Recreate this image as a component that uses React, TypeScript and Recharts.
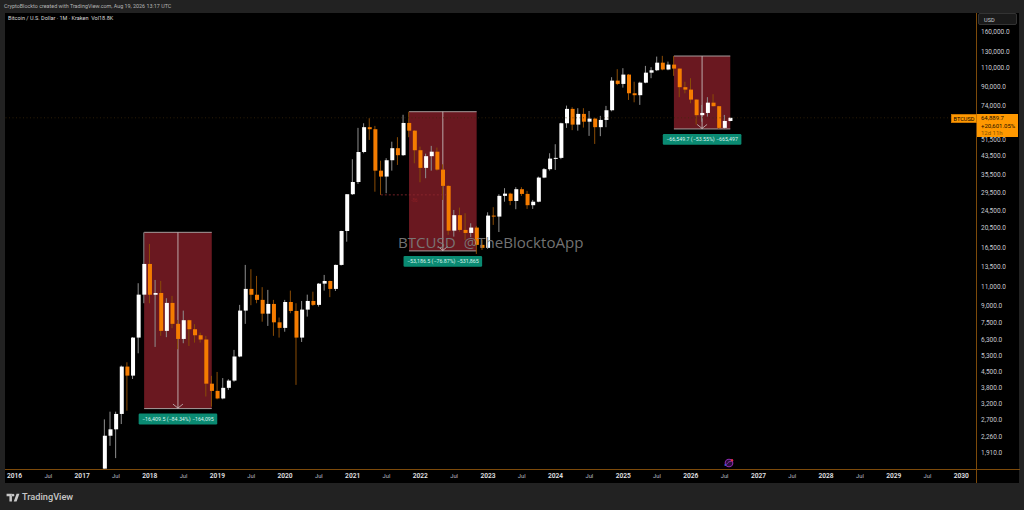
import React from "react";
import { ComposedChart, Bar, XAxis, YAxis, ReferenceArea, ReferenceLine } from "recharts";

// Monthly candles, first entry is May 2017 (month 16 counted from Jan 2016)
const firstMonth = 16;
const opens = [
  1620, 2290, 2450, 2880, 4740, 4310, 6430, 10100,
  13950, 10090, 10280, 6900, 9260, 7430, 6340, 7720, 7020, 6590, 6300, 3960,
  3670, 3390, 3790, 4090, 5270, 8540, 10730, 10090, 9560, 8270, 9160, 7550,
  7120, 9350, 8510, 6430, 8630, 9450, 9070, 11340, 11660, 10730, 13810, 19730,
  29050, 33030, 45280, 58800, 57550, 37220, 34970, 41530, 47140, 43790, 61470, 56680,
  46140, 38320, 43340, 45430, 37630, 31710, 19800, 23300, 19950, 19330, 20450, 17050,
  16520, 23200, 22960, 28550, 29230, 27060, 30620, 29140, 25880, 26850, 34600, 37800,
  42250, 42570, 61280, 71270, 60410, 67600, 62290, 64350, 58800, 63450, 70260, 95930,
  92670, 102220, 84000, 82310, 93900, 104320, 107000, 115880, 107860, 113550, 108880, 89550,
  87300, 78590, 66700, 68290, 76090, 73330, 58360, 62760,
];
const closes = [
  2290, 2450, 2880, 4740, 4310, 6430, 10100, 13950,
  10090, 10280, 6900, 9260, 7430, 6340, 7720, 7020, 6590, 6300, 3960, 3670,
  3390, 3790, 4090, 5270, 8540, 10730, 10090, 9560, 8270, 9160, 7550, 7120,
  9350, 8510, 6430, 8630, 9450, 9070, 11340, 11660, 10730, 13810, 19730, 29050,
  33030, 45280, 58800, 57550, 37220, 34970, 41530, 47140, 43790, 61470, 56680, 46140,
  38320, 43340, 45430, 37630, 31710, 19800, 23300, 19950, 19330, 20450, 17050, 16520,
  23200, 22960, 28550, 29230, 27060, 30620, 29140, 25880, 26850, 34600, 37800, 42250,
  42570, 61280, 71270, 60410, 67600, 62290, 64350, 58800, 63450, 70260, 95930, 92670,
  102220, 84000, 82310, 93900, 104320, 107000, 115880, 107860, 113550, 108880, 89550, 87300,
  78590, 66700, 68290, 76090, 73330, 58360, 62760, 64889.7,
];
const highs = [
  2720, 2950, 2950, 4790, 4960, 6460, 11390, 19450,
  17220, 11790, 11670, 9730, 9970, 7740, 8540, 7760, 7400, 6770, 6550, 4300,
  4480, 4200, 4150, 5650, 9070, 13810, 13200, 12300, 10930, 10620, 9560, 7940,
  9560, 10540, 9230, 9450, 10100, 10420, 11400, 12430, 11700, 13850, 19800, 29100,
  41980, 58370, 61280, 64630, 59600, 41340, 42430, 50470, 52930, 67000, 69190, 57000,
  47940, 44500, 48300, 47440, 39800, 31950, 24620, 25240, 23780, 21400, 20820, 17960,
  24020, 25350, 29050, 30960, 29520, 31280, 31280, 30100, 27360, 34970, 38270, 44700,
  49150, 61650, 73790, 72560, 71800, 71800, 69700, 65000, 66220, 73560, 99480, 108200,
  109350, 102800, 94850, 94850, 112030, 110520, 123550, 124500, 117200, 124276, 109000, 94850,
  98430, 79000, 74300, 80610, 83170, 73600, 66900, 65200,
];
const lows = [
  1620, 2060, 1810, 2590, 2980, 4160, 5450, 9230,
  9230, 5830, 6550, 6460, 7100, 5690, 6060, 5890, 6100, 6100, 3460, 3110,
  3360, 3360, 3710, 4040, 5230, 7430, 9040, 9230, 7600, 7270, 6550, 6430,
  6840, 8310, 3910, 6140, 8020, 8975, 8910, 10540, 9840, 10500, 13710, 17630,
  28840, 32370, 44700, 51420, 29830, 28840, 29350, 37220, 39540, 43470, 52920, 40230,
  32930, 34380, 37220, 37220, 27360, 18940, 18600, 19600, 17960, 18490, 15500, 16170,
  16350, 21040, 19520, 26850, 25880, 24810, 28550, 24890, 24890, 26700, 34380, 37220,
  37500, 41980, 58370, 57000, 56680, 58560, 53650, 49300, 53500, 58800, 69450, 91500,
  89170, 78310, 76400, 74330, 93340, 98430, 106100, 107000, 107000, 100850, 80610, 84000,
  75630, 60410, 62290, 65730, 73050, 57726, 57730, 62500,
];

// Y axis price ticks
const priceTicks = [160000, 130000, 110000, 90000, 74000, 51500, 43500, 35500, 29500, 24500, 20500, 16500, 13500, 11000, 9000, 7500, 6300, 5300, 4500, 3800, 3200, 2700, 2260, 1910];
const yDomain = [1614, 195400];

// X axis: every half-year from Jan 2016 to Jan 2030
const yearLabels = ["2016", "2017", "2018", "2019", "2020", "2021", "2022", "2023", "2024", "2025", "2026", "2027", "2028", "2029", "2030"];
const timeTicks = [0, 6, 12, 18, 24, 30, 36, 42, 48, 54, 60, 66, 72, 78, 84, 90, 96, 102, 108, 114, 120, 126, 132, 138, 144, 150, 156, 162, 168];
const xDomain = [-1.686, 170.6];

// Measured drawdowns
const drawStart = [23, 70, 117];
const drawEnd = [35, 82, 127];
const drawHigh = [19456, 69190, 124276];
const drawLow = [3047, 16003, 57726];
const drawLabels = ["−16,409.5 (−84.34%) −164,095", "−53,186.5 (−76.87%) −531,865", "−66,549.7 (−53.55%) −665,497"];

const lastPrice = 64889.7;
const oldHighLevel = 28850;

const rows = opens.map((o, i) => ({
  t: firstMonth + i,
  wick: [lows[i], highs[i]],
  body: [Math.min(o, closes[i]), Math.max(o, closes[i])],
  up: closes[i] >= o,
}));

const UI = "Roboto, 'Open Sans', sans-serif";
const ORANGE = "#f57c00";
const AXIS = "#7d4a0a";

const Wick = (p: any) => (
  <rect x={p.x} y={p.y} width={p.width} height={p.height} fill={p.payload.up ? "#8f8f8f" : "#8a4c06"} />
);
const Body = (p: any) => (
  <rect x={p.x} y={p.y} width={p.width} height={Math.max(p.height, 1)} fill={p.payload.up ? "#ffffff" : ORANGE} />
);

const makeBox = (label: string) => (p: any) => {
  const { x, y, width, height } = p;
  const cx = x + width / 2;
  const b = y + height;
  return (
    <g>
      <rect x={x} y={y} width={width} height={height} fill="#6a1820" />
      <rect x={x} y={y - 0.5} width={width} height={1} fill="#a79c9c" />
      <rect x={x} y={b - 0.5} width={width} height={1} fill="#a79c9c" />
      <line x1={cx} x2={cx} y1={y} y2={b} stroke="#c4b9b9" strokeWidth={0.9} />
      <path d={`M${cx - 5} ${b - 4.5}L${cx} ${b - 0.5}L${cx + 5} ${b - 4.5}`} fill="none" stroke="#c9bfbf" strokeWidth={0.8} />
      <rect x={cx - 39.3} y={b + 5} width={78.6} height={10.8} rx={1.2} fill="#0a8a72" />
      <text x={cx} y={b + 12.4} textAnchor="middle" fontFamily={UI} fontSize={5.3} fill="#d9f2ec">{label}</text>
    </g>
  );
};

const PriceTick = (p: any) => (
  <text x={981} y={p.y + 2.3} fontFamily={UI} fontSize={6.5} fill="#c8cad0">
    {Number(p.payload.value).toLocaleString("en-US", { minimumFractionDigits: 1, maximumFractionDigits: 1 })}
  </text>
);

const TimeTick = (p: any) => {
  const v = p.payload.value as number;
  const isYear = v % 12 === 0;
  return (
    <text x={p.x} y={478} textAnchor="middle" fontFamily={UI} fontSize={isYear ? 6.6 : 5.8} fontWeight={isYear ? 600 : 400} fill={isYear ? "#e4e5ea" : "#b9bbc2"}>
      {isYear ? yearLabels[v / 12] : "Jul"}
    </text>
  );
};

const abs = (s: React.CSSProperties): React.CSSProperties => ({ position: "absolute", ...s });

export default function App() {
  return (
    <div style={abs({ left: 0, top: 0, width: 1024, height: 510, background: "#222222", overflow: "hidden", fontFamily: UI })}>
      <div style={abs({ left: 5, top: 13, width: 1014, height: 470, background: "#000" })} />
      <div style={abs({ left: 5, top: 469, width: 1015, height: 1, background: AXIS })} />
      <div style={abs({ left: 976, top: 13, width: 1, height: 470, background: AXIS })} />
      <div style={abs({ left: 4, top: 3, fontSize: 5.4, color: "#b5b5b5", whiteSpace: "nowrap" })}>CryptoBlockto created with TradingView.com, Aug 19, 2026 13:17 UTC</div>
      <div style={abs({ left: 8, top: 15, fontSize: 5.5, color: "#d8d8d8", whiteSpace: "nowrap" })}>Bitcoin / U.S. Dollar · 1M · Kraken&nbsp; Vol18.8K</div>

      <div style={abs({ left: 0, top: 0 })}>
        <ComposedChart width={1024} height={510} data={rows} margin={{ top: 13, left: 5, right: 5, bottom: 27 }}>
          <XAxis xAxisId="main" type="number" dataKey="t" domain={xDomain} ticks={timeTicks} interval={0} height={14} axisLine={false} tickLine={false} tick={TimeTick} allowDataOverflow />
          <XAxis xAxisId="bodies" type="number" dataKey="t" domain={xDomain} hide allowDataOverflow />
          <YAxis orientation="right" scale="log" domain={yDomain} ticks={priceTicks} interval={0} width={43} axisLine={false} tickLine={false} tick={PriceTick} allowDataOverflow />
          {drawStart.map((s, i) => (
            <ReferenceArea key={i} xAxisId="main" x1={s} x2={drawEnd[i]} y1={drawLow[i]} y2={drawHigh[i]} ifOverflow="visible" shape={makeBox(drawLabels[i])} />
          ))}
          <ReferenceLine xAxisId="main" y={lastPrice} stroke="#3f2a0c" strokeDasharray="1 2.5" strokeWidth={0.7} />
          <ReferenceLine xAxisId="main" segment={[{ x: 65, y: oldHighLevel }, { x: 76.6, y: oldHighLevel }]} stroke="#8f2a30" strokeDasharray="2 2" strokeWidth={0.8} />
          <Bar xAxisId="main" dataKey="wick" barSize={1} shape={Wick} isAnimationActive={false} />
          <Bar xAxisId="bodies" dataKey="body" barSize={4} shape={Body} isAnimationActive={false} />
        </ComposedChart>
      </div>

      <div style={abs({ left: 411, top: 197.5, fontSize: 4.5, color: "#8c2026" })}>-86</div>
      <div style={abs({ left: 398, top: 231.5, fontSize: 15.1, color: "#7c7c7c", opacity: 0.92, whiteSpace: "nowrap", fontFamily: "'Open Sans', sans-serif" })}>BTCUSD&nbsp; @TheBlocktoApp</div>

      <div style={abs({ left: 978, top: 13, width: 39, height: 12, background: "#1a1a1a", border: "0.5px solid #333", borderRadius: 2, boxSizing: "border-box", fontSize: 5.6, color: "#c8cad0", paddingLeft: 5, lineHeight: "12px" })}>USD</div>

      <div style={abs({ left: 951, top: 114, width: 26, height: 9, background: "#ff9800", border: "0.5px solid #c87400", boxSizing: "border-box", fontSize: 5.6, color: "#000", lineHeight: "8px", paddingLeft: 1.5, whiteSpace: "nowrap", overflow: "hidden" })}>BTCUSD</div>
      <div style={abs({ left: 977, top: 114, width: 40.5, height: 23.3, background: "#ff9800", fontSize: 6, color: "#1a1000", paddingLeft: 4, lineHeight: "7.5px", paddingTop: 0.2, boxSizing: "border-box", whiteSpace: "nowrap" })}>
        <div>64,889.7</div>
        <div>+20,601.05%</div>
        <div style={{ color: "#8a5200" }}>12d 11h</div>
      </div>

      <svg style={abs({ left: 5, top: 493 })} width={16} height={10} viewBox="0 0 36 28">
        <path d="M0 2h15v22H8V9H0zM20 24L28 2h8l-8 22zM18 2a4 4 0 1 0 .01 0z" fill="#c8c8c8" />
      </svg>
      <div style={abs({ left: 22, top: 491, fontSize: 9.2, fontWeight: 500, color: "#c8c8c8", whiteSpace: "nowrap" })}>TradingView</div>

      <svg style={abs({ left: 723, top: 457 })} width={12} height={12} viewBox="0 0 12 12">
        <circle cx={6} cy={6} r={3.8} fill="#2a0f3a" stroke="#8e2bb0" strokeWidth={1.1} />
        <path d="M3.5 7.5c2-3 3-3 5-3" fill="none" stroke="#a040d0" strokeWidth={0.9} />
        <circle cx={9} cy={3.2} r={1.2} fill="#e0304a" />
        <circle cx={2.4} cy={8} r={1.1} fill="#3b4fe0" />
      </svg>
    </div>
  );
}
